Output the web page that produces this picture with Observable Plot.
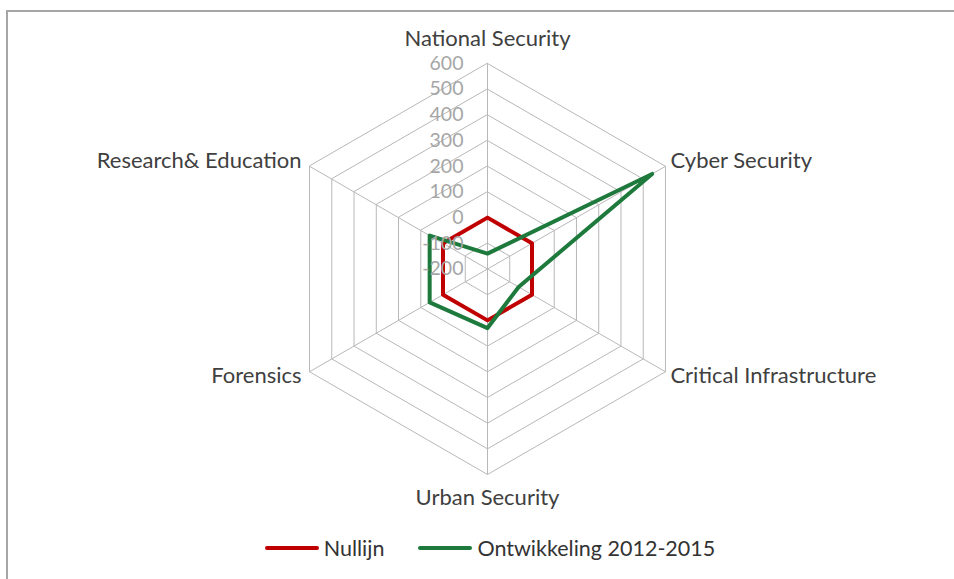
<!DOCTYPE html>
<html><head><meta charset="utf-8">
<script src="https://cdn.jsdelivr.net/npm/d3@7"></script>
<script src="https://cdn.jsdelivr.net/npm/@observablehq/plot@0.6"></script>
<style>
body{margin:0;background:#fff;width:954px;height:579px;overflow:hidden;font-family:Lato,"Open Sans",sans-serif;}
#border{position:absolute;left:6px;top:10px;right:0;bottom:0;border-top:2px solid #a6a6a6;border-left:2px solid #a6a6a6;}
#chart{position:absolute;left:0;top:0;}
#legend{position:absolute;left:0;top:535px;width:954px;height:26px;display:flex;justify-content:center;align-items:center;font-size:21.5px;color:#333;padding-left:26px;box-sizing:border-box;}
.item{display:flex;align-items:center;margin:0 17px;}
.swatch{width:54px;height:4px;border-radius:2px;margin-right:5px;}
</style></head>
<body><div id="border"></div><div id="chart"></div><div id="legend"></div>
<script>
const categories = ["National Security","Cyber Security","Critical Infrastructure","Urban Security","Forensics","Research& Education"];
const seriesNames = ["Nullijn","Ontwikkeling 2012-2015"];
const nullijn = [0,0,0,0,0,0];
const ontwikkeling = [-140,540,-60,30,60,60];
const tickValues = [-200,-100,0,100,200,300,400,500,600];
const seriesColors = ["#c00000","#1e7a3c"];

const lon = i => 180 - 60 * i;
const lat = d3.scaleLinear([-200, 600], [90, 50]);

const seriesData = [nullijn, ontwikkeling].flatMap((vals, s) =>
  vals.map((v, i) => ({series: seriesNames[s], i, v})));
const ringData = tickValues.slice(1).flatMap(t => categories.map((c, i) => ({t, i})));

const labelText = (cond, opts) => Plot.text(categories, {
  filter: (d, i) => cond(i), x: (d, i) => lon(i), y: lat(600), text: d => d,
  fontSize: 22, fill: "#404040", fontFamily: "Lato", ...opts
});

const chart = Plot.plot({
  width: 954, height: 520,
  marginLeft: 20, marginRight: 0, marginTop: 63, marginBottom: 46,
  projection: {type: "azimuthal-equidistant", rotate: [0, -90], clip: false,
    domain: d3.geoCircle().center([0, 90]).radius(40)()},
  color: {domain: seriesNames, range: seriesColors},
  marks: [
    Plot.line(ringData, {x: d => lon(d.i), y: d => lat(d.t), z: "t", curve: "linear-closed", stroke: "#b8b8b8", strokeWidth: 1}),
    Plot.link(categories, {x1: (d, i) => lon(i), y1: 90, x2: (d, i) => lon(i), y2: lat(600), curve: "linear", stroke: "#b8b8b8", strokeWidth: 1}),
    Plot.line(seriesData, {x: d => lon(d.i), y: d => lat(d.v), z: "series", stroke: "series", curve: "linear-closed", strokeWidth: 4, strokeLinejoin: "round"}),
    Plot.text(tickValues, {x: 180, y: d => lat(d), text: d => String(d), textAnchor: "end", dx: -24, fontSize: 19.5, fill: "#a6a6a6", fontFamily: "Lato"}),
    labelText(i => i === 0, {dy: -25}),
    labelText(i => i === 3, {dy: 23}),
    labelText(i => i === 1, {textAnchor: "start", dx: 5, dy: -5}),
    labelText(i => i === 2, {textAnchor: "start", dx: 5, dy: 4}),
    labelText(i => i === 5, {textAnchor: "end", dx: -8, dy: -5}),
    labelText(i => i === 4, {textAnchor: "end", dx: -8, dy: 4})
  ]
});
document.getElementById("chart").appendChild(chart);

const legend = document.getElementById("legend");
seriesNames.forEach((n, s) => {
  const item = document.createElement("div"); item.className = "item";
  const sw = document.createElement("div"); sw.className = "swatch"; sw.style.background = seriesColors[s];
  const tx = document.createElement("span"); tx.textContent = n;
  item.appendChild(sw); item.appendChild(tx); legend.appendChild(item);
});
</script>
</body></html>
